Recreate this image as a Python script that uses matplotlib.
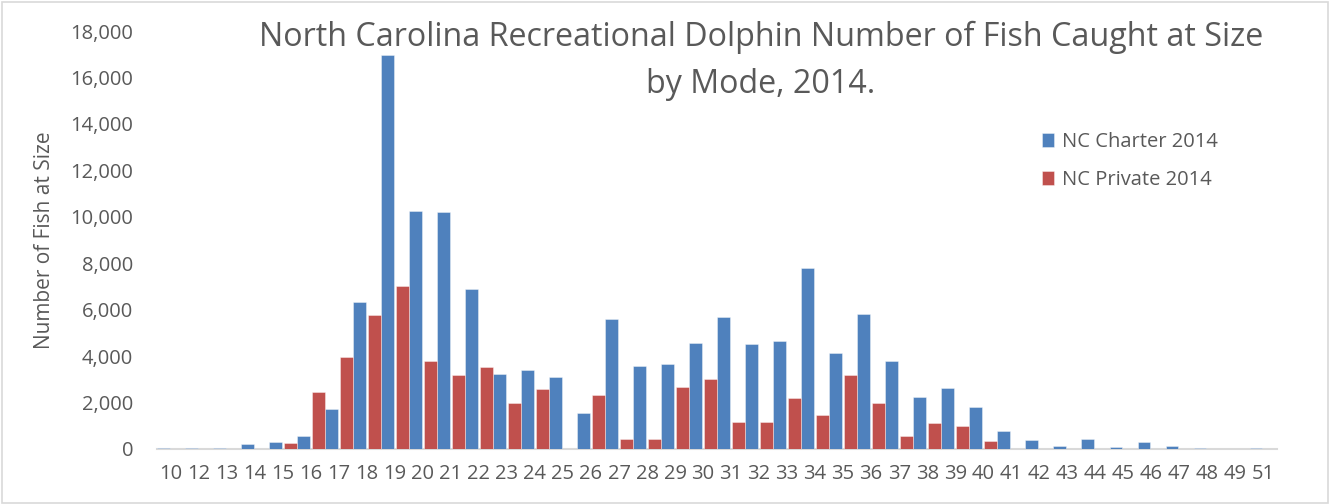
import matplotlib
matplotlib.use("Agg")
import matplotlib.pyplot as plt
import numpy as np
from matplotlib.patches import Rectangle
from matplotlib.ticker import FuncFormatter

sizes = ["10", "12", "13", "14", "15", "16", "17", "18", "19", "20",
         "21", "22", "23", "24", "25", "26", "27", "28", "29", "30",
         "31", "32", "33", "34", "35", "36", "37", "38", "39", "40",
         "41", "42", "43", "44", "45", "46", "47", "48", "49", "51"]

charter_2014 = [30, 30, 30, 200, 290, 560, 1710, 6330, 16960, 10250,
                10190, 6870, 3230, 3400, 3090, 1560, 5600, 3570, 3650, 4580,
                5680, 4540, 4650, 7780, 4150, 5800, 3790, 2240, 2640, 1790,
                780, 390, 110, 450, 90, 300, 130, 30, 0, 30]

private_2014 = [0, 0, 0, 0, 250, 2440, 3950, 5760, 7020, 3800,
                3190, 3550, 2000, 2570, 0, 2340, 420, 450, 2680, 3010,
                1150, 1160, 2180, 1450, 3200, 1980, 560, 1120, 980, 340,
                0, 0, 0, 0, 0, 0, 0, 0, 0, 0]

series_names = ["NC Charter 2014", "NC Private 2014"]
title_text = "North Carolina Recreational Dolphin Number of Fish Caught at Size\nby Mode, 2014."
ylabel_text = "Number of Fish at Size"

BLUE = "#4F81BD"
RED = "#C0504D"
TXT = "#595959"
FONT = "Open Sans"

plt.rcParams["font.family"] = [FONT, "DejaVu Sans"]

W, H, DPI = 1330, 504, 100
fig = plt.figure(figsize=(W / DPI, H / DPI), dpi=DPI)
fig.patch.set_facecolor("white")

ax_left = 156.8 / W
ax_right = 1277.3 / W
ax_bottom = 1 - 449 / H
ax_top = 1 - 31 / H
ax = fig.add_axes([ax_left, ax_bottom, ax_right - ax_left, ax_top - ax_bottom])

x = np.arange(len(sizes))
bw = 0.45
off = 0.265
ax.bar(x - off, charter_2014, width=bw, color=BLUE, edgecolor=(1, 1, 1, 0.45),
       linewidth=0.6, label=series_names[0], zorder=2)
ax.bar(x + off, private_2014, width=bw, color=RED, edgecolor=(1, 1, 1, 0.45),
       linewidth=0.6, label=series_names[1], zorder=2)

ax.set_xlim(-0.5, len(sizes) - 0.5)
ax.set_ylim(0, 18000)
ax.set_yticks(np.arange(0, 18001, 2000))
ax.yaxis.set_major_formatter(FuncFormatter(lambda v, p: f"{int(v):,}"))
ax.set_xticks(x)
ax.set_xticklabels(sizes)

for s in ["top", "right", "left"]:
    ax.spines[s].set_visible(False)
ax.spines["bottom"].set_color("#d9d9d9")
ax.spines["bottom"].set_linewidth(1.5)
ax.spines["bottom"].set_zorder(1)

ax.tick_params(axis="both", length=0, labelsize=14.5, labelcolor=TXT)
ax.tick_params(axis="y", pad=17)
ax.tick_params(axis="x", pad=11)

ax.set_ylabel(ylabel_text, fontsize=15, color=TXT, labelpad=11)

fig.text(761 / W, 1 - 21 / H, title_text, ha="center", va="top",
         fontsize=23.2, color=TXT, linespacing=1.55)

leg = fig.legend(loc="upper left", bbox_to_anchor=(1041.7 / W, 1 - 132 / H),
                 frameon=False, fontsize=14.5, handlelength=0.63, handleheight=0.7,
                 handletextpad=0.38, labelspacing=0.9, borderpad=0, borderaxespad=0)
for t in leg.get_texts():
    t.set_color(TXT)

fig.patches.append(Rectangle((1.5 / W, 1.5 / H), 1 - 3.5 / W, 1 - 3.5 / H,
                             transform=fig.transFigure, fill=False,
                             edgecolor="#d9d9d9", linewidth=1.2))

fig.savefig("out.png", dpi=DPI, facecolor="white")
